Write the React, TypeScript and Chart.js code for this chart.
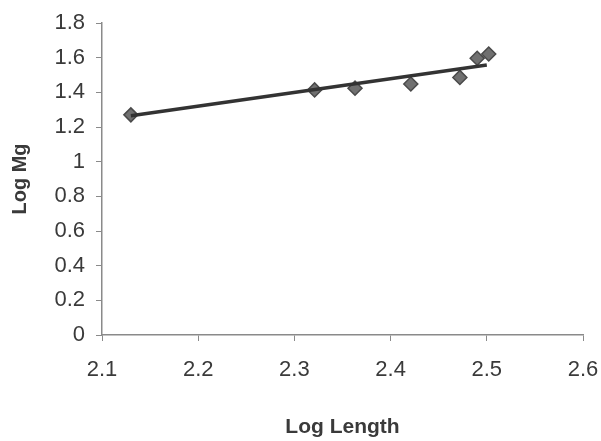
import React, { useEffect, useRef } from "react";
import { Chart, registerables } from "chart.js";

Chart.register(...registerables);

const logLength = [2.13, 2.321, 2.363, 2.421, 2.472, 2.49, 2.502];
const logMg = [1.27, 1.414, 1.424, 1.448, 1.486, 1.597, 1.621];
const trendX = [2.13, 2.5];
const trendY = [1.265, 1.558];
const xTicks = [2.1, 2.2, 2.3, 2.4, 2.5, 2.6];
const yTicks = [0, 0.2, 0.4, 0.6, 0.8, 1, 1.2, 1.4, 1.6, 1.8];

export default function App() {
  const ref = useRef<HTMLCanvasElement | null>(null);
  useEffect(() => {
    document.body.style.margin = "0";
    const ctx = ref.current!;
    const chart = new Chart(ctx, {
      type: "scatter",
      data: {
        datasets: [
          {
            label: "Trend",
            data: trendX.map((x, i) => ({ x, y: trendY[i] })),
            showLine: true,
            borderColor: "#333333",
            borderWidth: 3.5,
            pointRadius: 0,
            order: 0,
          },
          {
            label: "Data",
            data: logLength.map((x, i) => ({ x, y: logMg[i] })),
            pointStyle: "rectRot",
            pointRadius: 7,
            backgroundColor: "#707070",
            borderColor: "#4a4a4a",
            borderWidth: 1.5,
            order: 1,
          },
        ],
      },
      options: {
        animation: false,
        responsive: false,
        layout: { padding: { left: 0, right: 18, top: 23, bottom: 0 } },
        plugins: { legend: { display: false }, tooltip: { enabled: false } },
        scales: {
          x: {
            type: "linear",
            min: xTicks[0],
            max: xTicks[xTicks.length - 1],
            afterBuildTicks: (s: any) => {
              s.ticks = xTicks.map((v) => ({ value: v }));
            },
            afterFit: (s: any) => {
              s.height = 106;
              s.paddingLeft = 0;
              s.paddingRight = 0;
            },
            ticks: {
              color: "#3a3a3a",
              font: { family: "Liberation Sans", size: 22 },
              padding: 16,
              callback: (v: any) => String(Math.round(Number(v) * 10) / 10),
            },
            grid: { drawOnChartArea: false, drawTicks: true, tickLength: 6, color: "#8a8a8a" },
            border: { color: "#8a8a8a", width: 1.5 },
            title: {
              display: true,
              text: "Log Length",
              color: "#3a3a3a",
              font: { family: "Liberation Sans", size: 21, weight: "bold" },
              padding: { top: 10, bottom: 1 },
            },
          },
          y: {
            type: "linear",
            min: yTicks[0],
            max: yTicks[yTicks.length - 1],
            afterBuildTicks: (s: any) => {
              s.ticks = yTicks.map((v) => ({ value: v }));
            },
            afterFit: (s: any) => {
              s.width = 102;
              s.paddingTop = 0;
              s.paddingBottom = 0;
            },
            ticks: {
              color: "#3a3a3a",
              font: { family: "Liberation Sans", size: 22 },
              padding: 11,
              callback: (v: any) => String(Math.round(Number(v) * 10) / 10),
            },
            grid: { drawOnChartArea: false, drawTicks: true, tickLength: 6, color: "#8a8a8a" },
            border: { color: "#8a8a8a", width: 1.5 },
            title: {
              display: true,
              text: "Log Mg",
              color: "#3a3a3a",
              font: { family: "Liberation Sans", size: 20, weight: "bold" },
              padding: { top: 8, bottom: 8 },
            },
          },
        },
      },
    });
    return () => chart.destroy();
  }, []);
  return (
    <div style={{ width: 601, height: 441, background: "#fff" }}>
      <canvas ref={ref} width={601} height={441} />
    </div>
  );
}
